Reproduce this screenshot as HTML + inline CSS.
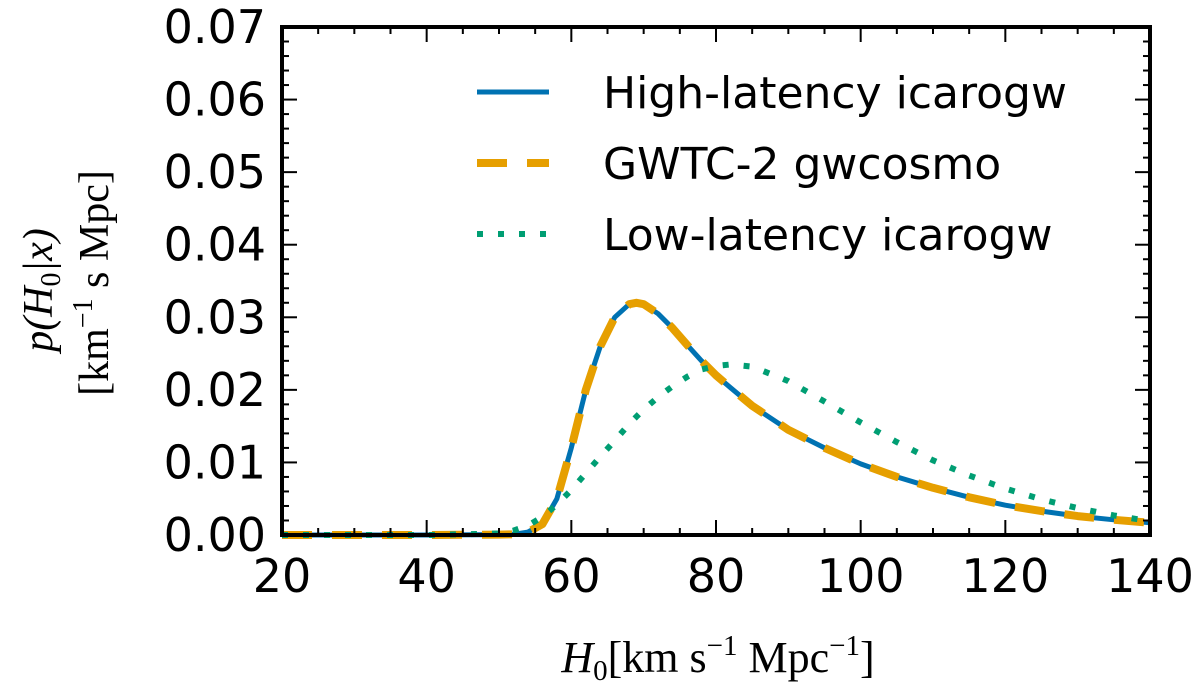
<!DOCTYPE html>
<html><head><meta charset="utf-8"><style>
html,body{margin:0;padding:0;background:#fff;}
svg{display:block;}
text{font-family:"DejaVu Sans","Liberation Sans",sans-serif;fill:#000;}
.serif{font-family:"Liberation Serif","DejaVu Serif",serif;}
</style></head><body>
<svg id="chart" width="1200" height="691" viewBox="0 0 1200 691">
<g id="plot"></g>
<g id="axes"></g>
<g>
<text class="serif" transform="translate(52,290) rotate(-90)" text-anchor="middle" font-size="42" font-style="italic">p(H<tspan font-size="28" dy="8" font-style="normal">0</tspan><tspan dy="-8">|x)</tspan></text>
<text class="serif" transform="translate(108,283) rotate(-90)" text-anchor="middle" font-size="42">[km<tspan font-size="28" dy="-16">−1</tspan><tspan dy="16"> s Mpc]</tspan></text>
</g>
<g>
<text class="serif" x="718" y="672" text-anchor="middle" font-size="44"><tspan font-style="italic">H</tspan><tspan font-size="29" dy="8">0</tspan><tspan dy="-8">[km s</tspan><tspan font-size="29" dy="-17">−1</tspan><tspan dy="17"> Mpc</tspan><tspan font-size="29" dy="-17">−1</tspan><tspan dy="17">]</tspan></text>
</g>
<g id="legend"></g>
</svg>
<script>
const xs = [20,30,40,50,52,54,56,58,60,62,64,66,68,69,70,72,74,76,78,80,82,85,90,95,100,105,110,115,120,125,130,135,140];
const highLatency = [0,0,0,0.00005,0.0001,0.0004,0.0015,0.005,0.012,0.020,0.026,0.030,0.0318,0.032,0.0318,0.0305,0.0285,0.0262,0.024,0.022,0.0203,0.0178,0.0145,0.0120,0.0098,0.0080,0.0065,0.0052,0.0041,0.0033,0.0026,0.0021,0.0017];
const gwtc2 = [0,0,0,0.00005,0.0001,0.0004,0.0015,0.005,0.012,0.020,0.026,0.030,0.0318,0.032,0.0318,0.0305,0.0285,0.0262,0.024,0.022,0.0203,0.0178,0.0145,0.0120,0.0098,0.0080,0.0065,0.0052,0.0041,0.0033,0.0026,0.0021,0.0017];
const lowLatency = [0,0,0,0.0002,0.0006,0.0013,0.0025,0.0042,0.0062,0.0085,0.0108,0.013,0.0153,0.0163,0.0173,0.019,0.0205,0.0218,0.0228,0.0233,0.0235,0.0232,0.0212,0.0184,0.0155,0.0128,0.0103,0.0082,0.0064,0.0049,0.0037,0.0027,0.0019];
const xTicks = [20,40,60,80,100,120,140];
const yTicks = [0,0.01,0.02,0.03,0.04,0.05,0.06,0.07];
const seriesNames = ["High-latency icarogw","GWTC-2 gwcosmo","Low-latency icarogw"];

const L=282,R=1150,T=27,B=535;
const X=v=>L+(v-20)/120*(R-L);
const Y=v=>B-v/0.07*(B-T);
const NS="http://www.w3.org/2000/svg";
function mk(tag,attrs,parent){const e=document.createElementNS(NS,tag);for(const k in attrs)e.setAttribute(k,attrs[k]);parent.appendChild(e);return e;}
const plot=document.getElementById('plot'),axes=document.getElementById('axes'),leg=document.getElementById('legend');
function pts(ys){return xs.map((x,i)=>X(x).toFixed(1)+','+Y(ys[i]).toFixed(1)).join(' ');}
const styles=[
 {c:'#0072b2',w:5,d:''},
 {c:'#e69f00',w:8,d:'30,20'},
 {c:'#009e73',w:6,d:'6,15'}];
const datas=[highLatency,gwtc2,lowLatency];
const names=['high-latency-line','gwtc2-line','low-latency-line'];
datas.forEach((d,i)=>{
 const p=mk('polyline',{points:pts(d),fill:'none',stroke:styles[i].c,'stroke-width':styles[i].w,'stroke-dasharray':styles[i].d,'stroke-linejoin':'round'},plot);
 
 
});
for(let v=20;v<=140;v+=5){
 const major=(v%20===0), len=major?15:7;
 mk('line',{x1:X(v),x2:X(v),y1:B,y2:B-len,stroke:'#000','stroke-width':2},axes);
 mk('line',{x1:X(v),x2:X(v),y1:T,y2:T+len,stroke:'#000','stroke-width':2},axes);
}
for(let k=0;k<=35;k++){
 const v=k*0.002, major=(k%5===0), len=major?15:7;
 mk('line',{x1:L,x2:L+len,y1:Y(v),y2:Y(v),stroke:'#000','stroke-width':2},axes);
 mk('line',{x1:R,x2:R-len,y1:Y(v),y2:Y(v),stroke:'#000','stroke-width':2},axes);
}
xTicks.forEach(v=>{
 const t=mk('text',{x:X(v),y:592,'text-anchor':'middle','font-size':46},axes);t.textContent=v;
 
 
});
yTicks.forEach(v=>{
 const t=mk('text',{x:266,y:Y(v)+16,'text-anchor':'end','font-size':46},axes);t.textContent=v.toFixed(2);
 
 
});
const fr=mk('rect',{x:L,y:T,width:R-L,height:B-T,fill:'none',stroke:'#000','stroke-width':4},axes);


const ly=[92,163,234];
seriesNames.forEach((n,i)=>{
 const g=mk('g',{},leg);
 
 
 mk('line',{x1:477,x2:549,y1:ly[i],y2:ly[i],stroke:styles[i].c,'stroke-width':styles[i].w,'stroke-dasharray':styles[i].d},g);
 const t=mk('text',{x:603,y:ly[i]+16,'font-size':44},g);t.textContent=n;
});
</script>
</body></html>
